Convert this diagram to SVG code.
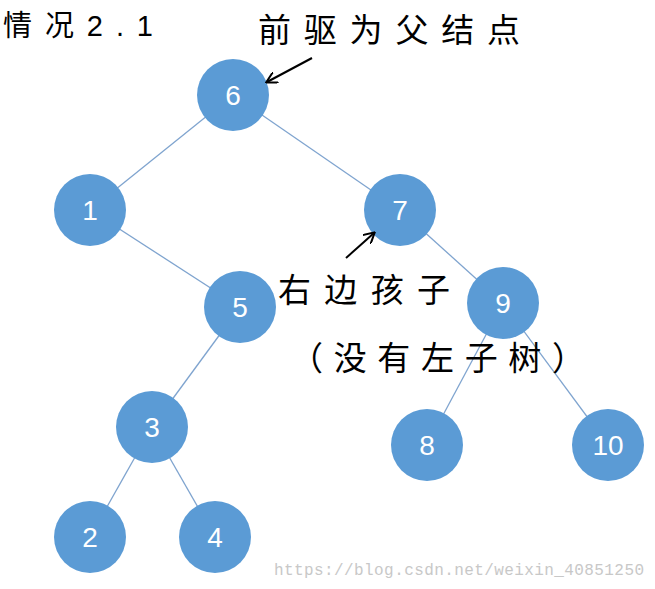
<svg xmlns="http://www.w3.org/2000/svg" width="655" height="589" viewBox="0 0 655 589">
<style>
.n{fill:#5b9bd5}
.t{fill:#fff;font-family:"Liberation Sans",sans-serif;font-size:28px;text-anchor:middle;dominant-baseline:central}
.e{stroke:#7fa4cf;stroke-width:1.3}
.l{font-family:"Liberation Sans","Noto Sans CJK SC",sans-serif;fill:#000}
.a{stroke:#000;stroke-width:2;fill:none}
</style>
<defs><marker id="ar" markerWidth="12" markerHeight="12" refX="10" refY="6" orient="auto" markerUnits="userSpaceOnUse"><path d="M0,0 L11,6 L0,12" fill="none" stroke="#000" stroke-width="2"/></marker></defs>
<rect width="655" height="589" fill="#fff"/>
<g id="edges">
<line class="e" x1="233" y1="95" x2="90" y2="210"/>
<line class="e" x1="233" y1="95" x2="400" y2="210"/>
<line class="e" x1="90" y1="210" x2="240" y2="307"/>
<line class="e" x1="400" y1="210" x2="503" y2="303"/>
<line class="e" x1="240" y1="307" x2="152" y2="427"/>
<line class="e" x1="152" y1="427" x2="90" y2="537"/>
<line class="e" x1="152" y1="427" x2="215" y2="537"/>
<line class="e" x1="503" y1="303" x2="427" y2="445"/>
<line class="e" x1="503" y1="303" x2="608" y2="445"/>
</g>
<g id="n6"><circle class="n" cx="233" cy="95" r="36"/><text class="t" x="233" y="95">6</text></g>
<g id="n1"><circle class="n" cx="90" cy="210" r="36"/><text class="t" x="90" y="210">1</text></g>
<g id="n7"><circle class="n" cx="400" cy="210" r="36"/><text class="t" x="400" y="210">7</text></g>
<g id="n5"><circle class="n" cx="240" cy="307" r="36"/><text class="t" x="240" y="307">5</text></g>
<g id="n9"><circle class="n" cx="503" cy="303" r="36"/><text class="t" x="503" y="303">9</text></g>
<g id="n3"><circle class="n" cx="152" cy="427" r="36"/><text class="t" x="152" y="427">3</text></g>
<g id="n8"><circle class="n" cx="427" cy="445" r="36"/><text class="t" x="427" y="445">8</text></g>
<g id="n10"><circle class="n" cx="608" cy="445" r="36"/><text class="t" x="608" y="445">10</text></g>
<g id="n2"><circle class="n" cx="90" cy="537" r="36"/><text class="t" x="90" y="537">2</text></g>
<g id="n4"><circle class="n" cx="215" cy="537" r="36"/><text class="t" x="215" y="537">4</text></g>
<text class="l" x="3" y="36" font-size="29" textLength="150" lengthAdjust="spacing">情况2.1</text>
<text class="l" x="258" y="42" font-size="33" textLength="262" lengthAdjust="spacing">前驱为父结点</text>
<line class="a" x1="312" y1="58" x2="267" y2="82" marker-end="url(#ar)"/>
<text class="l" x="278" y="302" font-size="33" textLength="172" lengthAdjust="spacing">右边孩子</text>
<line class="a" x1="346" y1="258" x2="374" y2="233" marker-end="url(#ar)"/>
<text class="l" x="290" y="370" font-size="33" textLength="295" lengthAdjust="spacing">（没有左子树）</text>
<text x="274" y="575" font-size="16" fill="#c8c8c8" font-family="Liberation Mono,monospace" textLength="370" lengthAdjust="spacing">https://blog.csdn.net/weixin_40851250</text>
</svg>
